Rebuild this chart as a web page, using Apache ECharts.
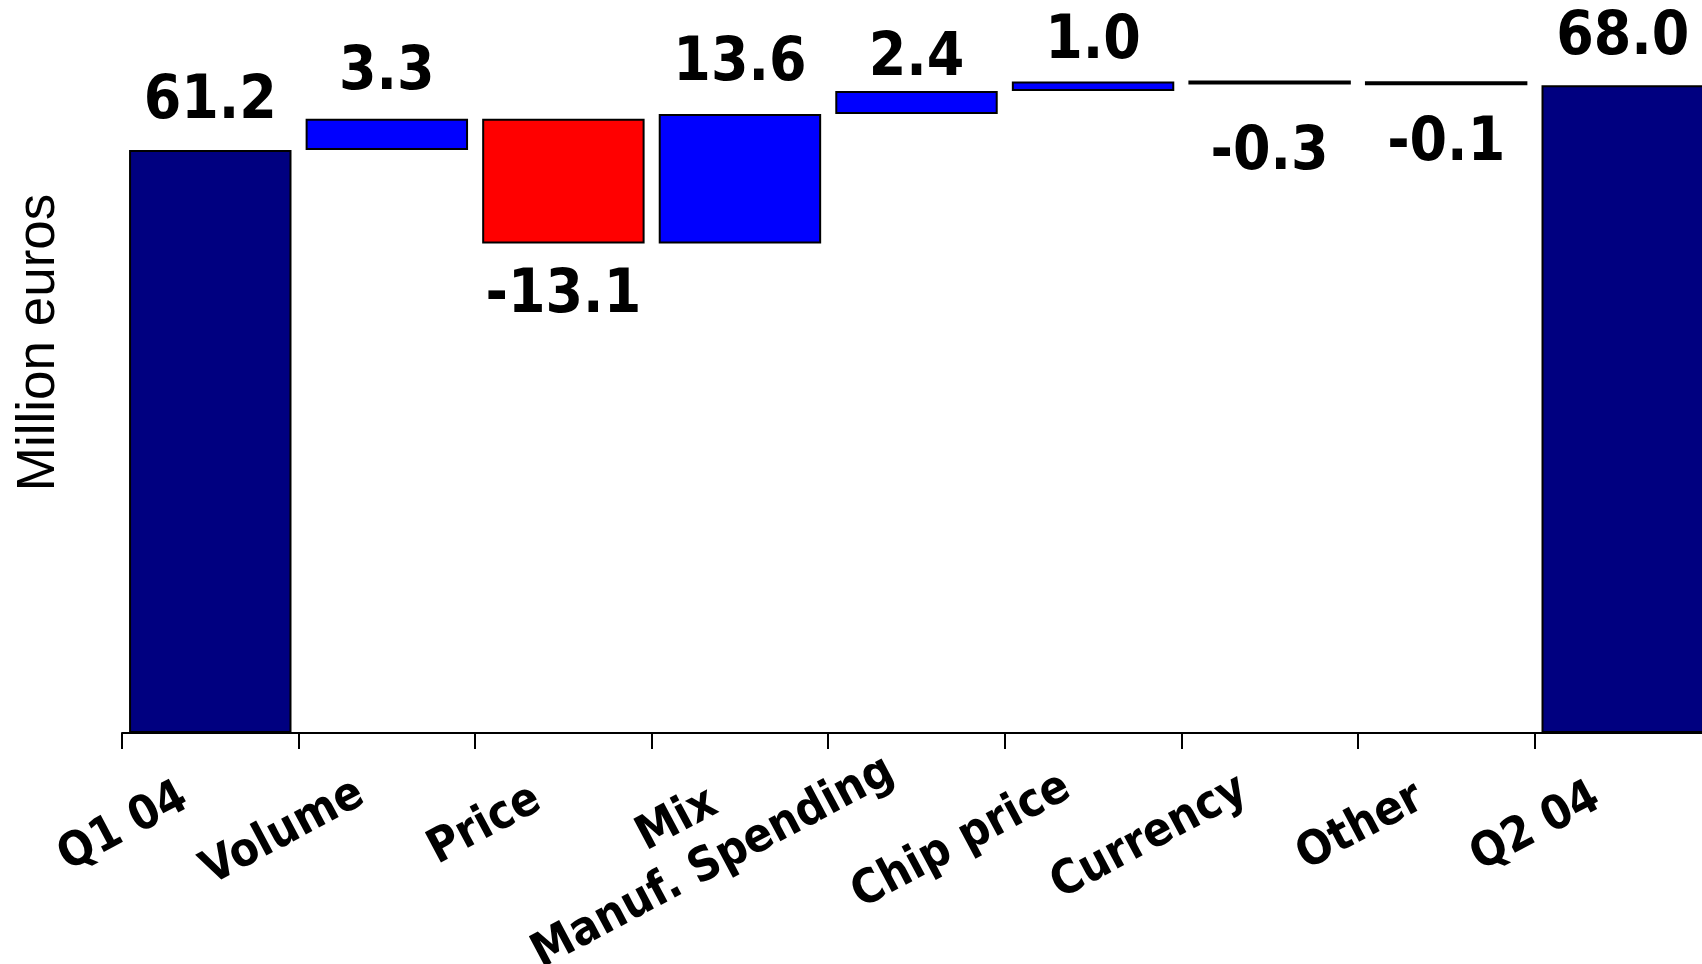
<!DOCTYPE html>
<html>
<head>
<meta charset="utf-8">
<title>Q1 04 to Q2 04 bridge</title>
<script src="https://cdn.jsdelivr.net/npm/echarts@6/dist/echarts.min.js"></script>
<style>
  html, body { margin: 0; padding: 0; background: #ffffff; }
  #chart { width: 1702px; height: 964px; }
</style>
</head>
<body>
<div id="chart"></div>
<script>
// Bridge steps, in million euros
const categories = ['Q1 04', 'Volume', 'Price', 'Mix', 'Manuf. Spending', 'Chip price', 'Currency', 'Other', 'Q2 04'];
const values = [61.2, 3.3, -13.1, 13.6, 2.4, 1.0, -0.3, -0.1, 68.0];
const kinds = ['total', 'delta', 'delta', 'delta', 'delta', 'delta', 'delta', 'delta', 'total'];

// Hand placement of the value labels (vertical nudge in px, + is down)
const labelNudge = [2, 5, 1, 0, 18, 11, 17, 7, 3];

const TOTAL_COLOR = '#000080';
const UP_COLOR = '#0000ff';
const DOWN_COLOR = '#ff0000';
const LABEL_FONT = "'DejaVu Sans Condensed', 'DejaVu Sans', Verdana, sans-serif";
const AXIS_FONT_SIZE = 47;
const VALUE_FONT_SIZE = 60;

// Invisible base + visible step, stacked, gives the floating bars
const baseData = [];
const stepData = [];
let running = 0;
values.forEach((v, i) => {
  const up = kinds[i] === 'total' || v >= 0;
  let color, base, size;
  if (kinds[i] === 'total') {
    running = v;
    base = 0;
    size = v;
    color = TOTAL_COLOR;
  } else {
    const start = running;
    running = +(running + v).toFixed(1);
    base = Math.min(start, running);
    size = Math.abs(v);
    color = v >= 0 ? UP_COLOR : DOWN_COLOR;
  }
  baseData.push(base);
  stepData.push({
    value: size,
    itemStyle: { color: color },
    label: {
      position: up ? 'top' : 'bottom',
      distance: up ? 20 : 22,
      offset: [0, labelNudge[i]]
    }
  });
});

// Rotated category labels: longer labels sit a little higher
const measureCtx = document.createElement('canvas').getContext('2d');
measureCtx.font = 'bold ' + AXIS_FONT_SIZE + 'px ' + LABEL_FONT;
const labelWidths = categories.map(c => measureCtx.measureText(c).width);
const minLabelWidth = Math.min.apply(null, labelWidths);
const axisRich = {};
categories.forEach((c, i) => {
  const lift = 0.1 * (labelWidths[i] - minLabelWidth);
  axisRich['c' + i] = {
    color: '#000000',
    fontFamily: LABEL_FONT,
    fontWeight: 'bold',
    fontSize: AXIS_FONT_SIZE,
    padding: [0, 29 - 0.469 * lift, 1.766 * lift, 0]
  };
});

const chart = echarts.init(document.getElementById('chart'), null, { renderer: 'canvas' });

chart.setOption({
  animation: false,
  backgroundColor: '#ffffff',
  grid: {
    left: 122, right: -9, top: -48, bottom: 231,
    containLabel: false,
    outerBoundsMode: 'none'
  },
  xAxis: {
    type: 'category',
    data: categories,
    axisLine: { show: true, lineStyle: { color: '#000000', width: 2 } },
    axisTick: { show: true, length: 16, lineStyle: { color: '#000000', width: 2 } },
    axisLabel: {
      interval: 0,
      rotate: 28,
      margin: 54,
      color: '#000000',
      fontFamily: LABEL_FONT,
      fontWeight: 'bold',
      fontSize: AXIS_FONT_SIZE,
      formatter: (value, index) => '{c' + index + '|' + value + '}',
      rich: axisRich
    },
    splitLine: { show: false }
  },
  yAxis: {
    type: 'value',
    min: 0,
    max: 82,
    name: 'Million euros',
    nameLocation: 'middle',
    nameGap: 56,
    nameRotate: 90,
    nameTextStyle: {
      color: '#000000',
      fontFamily: "'Liberation Sans', Arial, sans-serif",
      fontSize: 53
    },
    axisLine: { show: false },
    axisTick: { show: false },
    axisLabel: { show: false },
    splitLine: { show: false }
  },
  series: [
    {
      name: 'base',
      type: 'bar',
      stack: 'bridge',
      data: baseData,
      barCategoryGap: '8%',
      itemStyle: { color: 'transparent', borderWidth: 0 },
      emphasis: { disabled: true },
      silent: true
    },
    {
      name: 'step',
      type: 'bar',
      stack: 'bridge',
      data: stepData,
      barCategoryGap: '8%',
      barMinHeight: 4,
      itemStyle: { borderColor: '#000000', borderWidth: 2 },
      label: {
        show: true,
        color: '#000000',
        fontFamily: LABEL_FONT,
        fontWeight: 'bold',
        fontSize: VALUE_FONT_SIZE,
        formatter: p => values[p.dataIndex].toFixed(1)
      },
      emphasis: { disabled: true }
    }
  ]
});
</script>
</body>
</html>
